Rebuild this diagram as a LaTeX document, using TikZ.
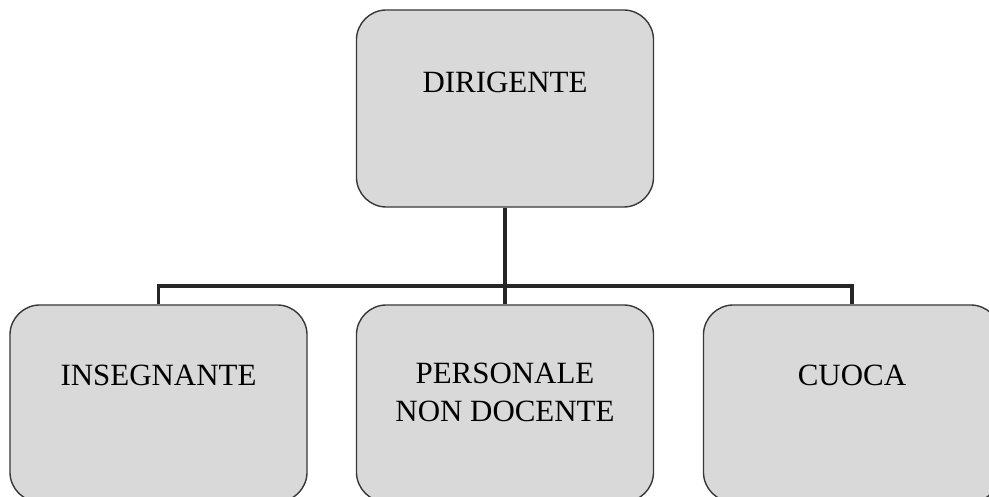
\documentclass[tikz,border=0pt]{standalone}
\usepackage{fontspec}
\setmainfont{Liberation Serif}
\usetikzlibrary{positioning}

\definecolor{boxgray}{HTML}{D9D9D9}
\definecolor{edgegray}{HTML}{383838}

\tikzset{
  orgbox/.style={draw=edgegray, line width=1pt, fill=boxgray, rounded corners=0.75cm,
    minimum width=7.425cm, minimum height=4.925cm},
  orglabel/.style={font=\fontsize{22}{27}\selectfont, align=center, inner sep=0pt},
  link/.style={draw=black!85, line width=2.8pt}
}

\begin{document}
\begin{tikzpicture}[x=0.025cm, y=-0.025cm]
    \fill[white] (0,0) rectangle (989,497);
    \useasboundingbox (0,0) rectangle (989,497);

    % boxes
    \node[orgbox] (dir) at (505,108.5) {};
    \node[orgbox] (ins) at (158.5,403.5) {};
    \node[orgbox] (per) at (505,403.5) {};
    \node[orgbox] (cuo) at (852,403.5) {};

    % labels
    \node[orglabel, below=1.55cm of dir.north] (dirt) {DIRIGENTE};
    \node[orglabel, below=1.5cm of ins.north] (inst) {INSEGNANTE};
    \node[orglabel, below=1.45cm of per.north] (pert) {PERSONALE\\NON DOCENTE};
    \node[orglabel, below=1.5cm of cuo.north] (cuot) {CUOCA};

    % connectors
    \coordinate (bus) at (505,286);
    \draw[link] (dir.south) -- (per.north);
    \draw[link] (ins.north) |- (bus) -| (cuo.north);
\end{tikzpicture}
\end{document}
